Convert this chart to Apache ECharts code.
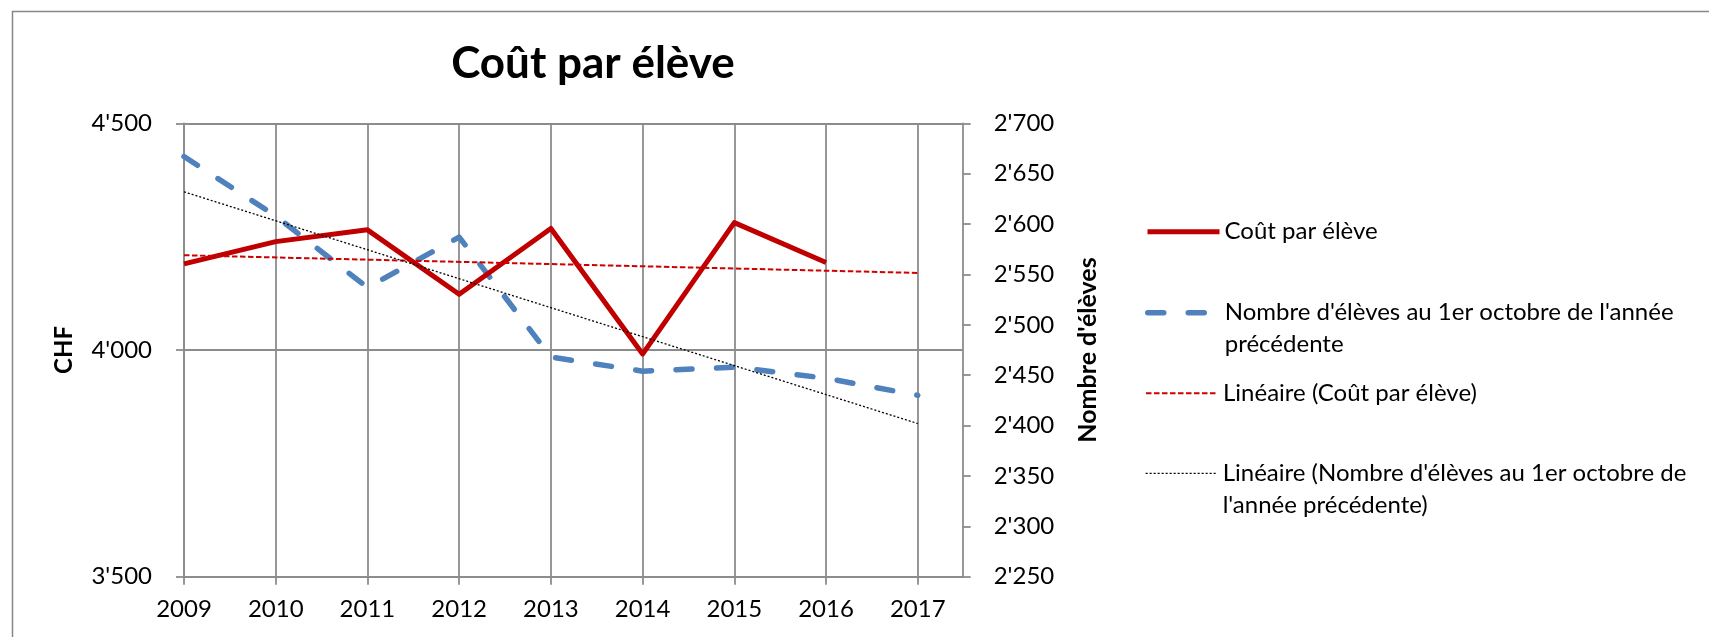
<!DOCTYPE html>
<html>
<head>
<meta charset="utf-8">
<title>Coût par élève</title>
<script src="https://cdn.jsdelivr.net/npm/echarts@6.0.0/dist/echarts.min.js"></script>
<style>
  html, body { margin: 0; padding: 0; background: #fff; }
  #chart-container { width: 1709px; height: 637px; }
</style>
</head>
<body>
<div id="chart-container"></div>
<script>
// values
var years = [2009, 2010, 2011, 2012, 2013, 2014, 2015, 2016, 2017];
var costPerStudent = [4190, 4239, 4265, 4123, 4268, 3991, 4281, 4193]; // no 2017 value
var students = [2667, 2608, 2537, 2587, 2468, 2454, 2458, 2447, 2430];
var trendYears = [2009, 2017];
var costTrend = [4209, 4170];
var studentsTrend = [2632, 2402];

var nameCost = 'Coût par élève';
var nameStudents = "Nombre d'élèves au 1er octobre de l'année précédente";
var nameCostTrend = 'Linéaire (Coût par élève)';
var nameStudentsTrend = "Linéaire (Nombre d'élèves au 1er octobre de l'année précédente)";

var FONT = 'Lato';
var GRID_COLOR = '#8c8c8c';

function pairs(xs, ys) {
  return ys.map(function (v, i) { return [xs[i], v]; });
}
function swiss(v) {
  return String(v).replace(/\B(?=(\d{3})+(?!\d))/g, "'");
}

// legend text is centred on the icon; for wrapped entries an empty first
// line puts the icon level with the first line of text, as in Excel
function legendFor(name, top, text, lineStyle) {
  var shown = text.indexOf('\n') >= 0 ? '\u00a0\n' + text : text;
  return {
    data: [name],
    left: 1145,
    top: top,
    padding: 0,
    itemWidth: 72,
    itemHeight: 32,
    formatter: function () { return shown; },
    itemStyle: { opacity: 0 },
    lineStyle: lineStyle,
    textStyle: {
      fontFamily: FONT,
      fontSize: 24,
      color: '#000',
      lineHeight: 32
    }
  };
}

var dom = document.getElementById('chart-container');
var myChart = echarts.init(dom, null, { renderer: 'canvas' });
var option;

option = {
  animation: false,
  backgroundColor: '#fff',
  title: {
    text: 'Coût par élève',
    left: 588,
    textAlign: 'center',
    top: 37,
    textStyle: { fontFamily: FONT, fontSize: 44, fontWeight: 'bold', color: '#000' }
  },
  graphic: [
    {
      type: 'rect',
      shape: { x: 12.5, y: 11.5, width: 1800, height: 800 },
      style: { fill: 'none', stroke: '#878787', lineWidth: 1.5 },
      silent: true
    }
  ],
  legend: [
    legendFor(nameCost, 215.7, 'Coût par élève',
      { width: 5, type: 'solid' }),
    legendFor(nameStudents, 264.7, "Nombre d'élèves au 1er octobre de l'année\nprécédente",
      { width: 5.5, type: [16, 24.5], cap: 'round' }),
    legendFor(nameCostTrend, 377.3, 'Linéaire (Coût par élève)',
      { width: 2, type: [5.5, 2.5] }),
    legendFor(nameStudentsTrend, 425.3, "Linéaire (Nombre d'élèves au 1er octobre de\nl'année précédente)",
      { width: 1.3, type: [2, 2] })
  ],
  grid: { left: 184, right: 746.3, top: 123.3, bottom: 60.3 },
  xAxis: {
    type: 'value',
    min: 2009,
    max: 2017.49,
    interval: 1,
    axisLine: { show: true, onZero: false, lineStyle: { color: GRID_COLOR, width: 1.8 } },
    axisTick: { show: true, length: 8, customValues: years, lineStyle: { color: GRID_COLOR, width: 1.8 } },
    axisLabel: {
      customValues: years,
      margin: 21,
      fontFamily: FONT,
      fontSize: 24,
      color: '#000',
      formatter: function (v) { return String(v); }
    },
    splitLine: { show: true, lineStyle: { color: GRID_COLOR, width: 1.8 } }
  },
  yAxis: [
    {
      type: 'value',
      min: 3500,
      max: 4500,
      interval: 500,
      name: 'CHF',
      nameLocation: 'middle',
      nameRotate: 90,
      nameGap: 108,
      nameTextStyle: { fontFamily: FONT, fontSize: 24, fontWeight: 'bold', color: '#000' },
      axisLine: { show: true, lineStyle: { color: GRID_COLOR, width: 1.8 } },
      axisTick: { show: true, length: 8, lineStyle: { color: GRID_COLOR, width: 1.8 } },
      axisLabel: { margin: 32, fontFamily: FONT, fontSize: 24, color: '#000', formatter: swiss },
      splitLine: { show: true, lineStyle: { color: GRID_COLOR, width: 1.8 } }
    },
    {
      type: 'value',
      position: 'right',
      min: 2250,
      max: 2700,
      interval: 50,
      name: "Nombre d'élèves",
      nameLocation: 'middle',
      nameRotate: 90,
      nameGap: 113,
      nameTextStyle: { fontFamily: FONT, fontSize: 25, fontWeight: 'bold', color: '#000' },
      axisLine: { show: true, lineStyle: { color: GRID_COLOR, width: 1.8 } },
      axisTick: { show: true, length: 8, lineStyle: { color: GRID_COLOR, width: 1.8 } },
      axisLabel: { margin: 31, fontFamily: FONT, fontSize: 24, color: '#000', formatter: swiss },
      splitLine: { show: false }
    }
  ],
  series: [
    {
      name: nameCost,
      type: 'line',
      yAxisIndex: 0,
      data: pairs(years, costPerStudent),
      symbol: 'none',
      lineStyle: { color: '#C00000', width: 5, join: 'round' },
      itemStyle: { color: '#C00000' },
      z: 3
    },
    {
      name: nameStudents,
      type: 'line',
      yAxisIndex: 1,
      data: pairs(years, students),
      symbol: 'none',
      lineStyle: { color: '#4F81BD', width: 5.5, type: [16, 24.5], cap: 'round', join: 'round' },
      itemStyle: { color: '#4F81BD' },
      z: 2
    },
    {
      name: nameCostTrend,
      type: 'line',
      yAxisIndex: 0,
      data: pairs(trendYears, costTrend),
      symbol: 'none',
      lineStyle: { color: '#D00000', width: 2, type: [5.5, 2.5] },
      itemStyle: { color: '#D00000' },
      z: 4
    },
    {
      name: nameStudentsTrend,
      type: 'line',
      yAxisIndex: 1,
      data: pairs(trendYears, studentsTrend),
      symbol: 'none',
      lineStyle: { color: '#000', width: 1.3, type: [2, 2] },
      itemStyle: { color: '#000' },
      z: 5
    }
  ]
};

if (option && typeof option === 'object') {
  myChart.setOption(option);
}

window.addEventListener('resize', myChart.resize);
</script>
</body>
</html>
